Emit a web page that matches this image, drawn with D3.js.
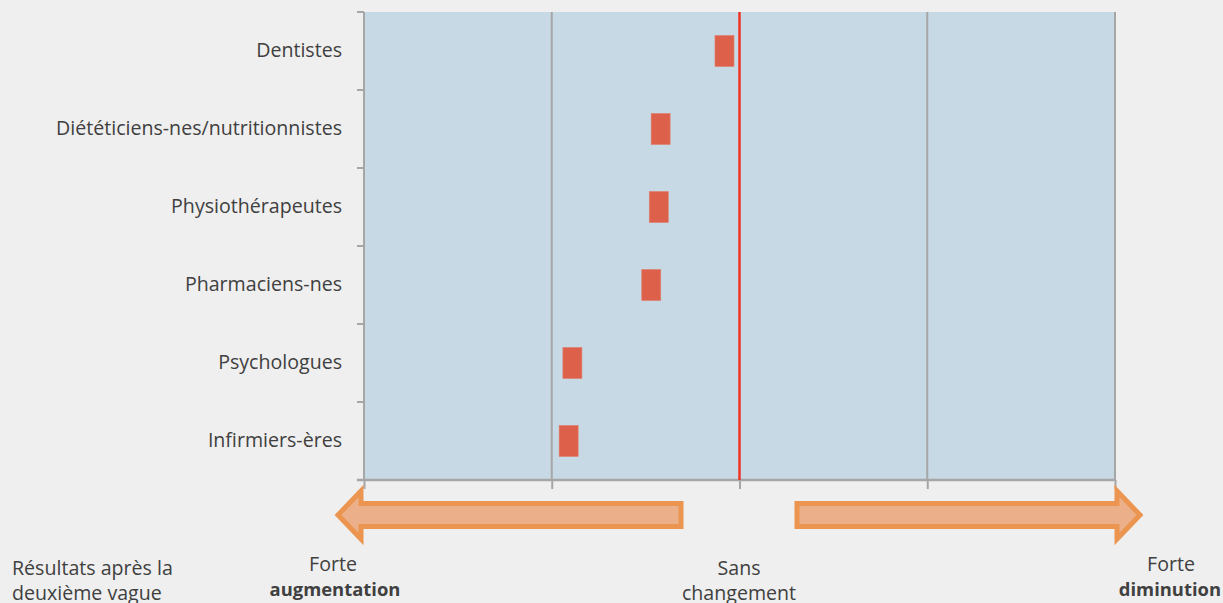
<!DOCTYPE html>
<html>
<head>
<meta charset="utf-8">
<script src="https://cdn.jsdelivr.net/npm/d3@7"></script>
<style>
  html, body { margin: 0; padding: 0; background: #efefef; }
  svg { display: block; }
  text { font-family: "Open Sans", sans-serif; fill: #404040; }
</style>
</head>
<body>
<svg id="chart" width="1223" height="603"></svg>
<script>
// Data (scale: -2 = forte augmentation, 0 = sans changement, +2 = forte diminution)
const categories = ["Dentistes", "Diététiciens-nes/nutritionnistes", "Physiothérapeutes", "Pharmaciens-nes", "Psychologues", "Infirmiers-ères"];
const values = [-0.08, -0.42, -0.43, -0.47, -0.89, -0.91];
const xTicks = [-2, -1, 0, 1, 2];

(function () {
const svg = d3.select("#chart");
const W = 1223, H = 603;
const FS = "19.6px", FSB = "18.4px";
svg.append("rect").attr("width", W).attr("height", H).attr("fill", "#efefef");

const pL = 364, pR = 1115, pT = 12, pB = 480;
const x = d3.scaleLinear().domain([-2, 2]).range([pL, pR]);
const y = d3.scaleBand().domain(categories).range([pT, pB]).paddingInner(0).paddingOuter(0);

// plot background
svg.append("rect").attr("x", pL).attr("y", pT).attr("width", pR - pL).attr("height", pB - pT).attr("fill", "#c7d9e5");

// vertical gridlines
svg.append("g").selectAll("line").data(xTicks.filter(d => d !== 0 && d !== -2)).join("line")
  .attr("x1", d => x(d)).attr("x2", d => x(d)).attr("y1", pT).attr("y2", pB)
  .attr("stroke", "#a6a6a6").attr("stroke-width", 2);

// x axis
const xAxis = svg.append("g").attr("transform", `translate(0,${pB})`)
  .call(d3.axisBottom(x).tickValues(xTicks).tickSize(9).tickFormat(""));
xAxis.select(".domain").attr("stroke", "#a6a6a6").attr("stroke-width", 2.5).attr("d", `M${pL - 7},0H${pR}`);
xAxis.selectAll(".tick line").attr("stroke", "#a6a6a6").attr("stroke-width", 2);

// y axis
const ticksY = categories.map(c => y(c)).concat([pB]);
const yAxis = svg.append("g").attr("transform", `translate(${pL},0)`)
  .call(d3.axisLeft(y).tickSize(0).tickPadding(22));
yAxis.select(".domain").attr("stroke", "#a6a6a6").attr("stroke-width", 2).attr("d", `M0,${pT}V${pB}`);
yAxis.selectAll(".tick text").style("font-size", FS).style("fill", "#404040").style("font-family", "'Open Sans', sans-serif");
svg.append("g").selectAll("line").data(ticksY).join("line")
  .attr("x1", pL - 7).attr("x2", pL).attr("y1", d => d).attr("y2", d => d)
  .attr("stroke", "#a6a6a6").attr("stroke-width", 2);

// red centre line
svg.append("line").attr("x1", x(0)).attr("x2", x(0)).attr("y1", pT).attr("y2", pB)
  .attr("stroke", "#ee3224").attr("stroke-width", 2.5);

// markers
const bw = 19, bh = 31;
svg.append("g").selectAll("rect").data(categories).join("rect")
  .attr("x", (d, i) => x(values[i]) - bw / 2)
  .attr("y", d => y(d) + y.bandwidth() / 2 - bh / 2)
  .attr("width", bw).attr("height", bh)
  .attr("fill", "#dd614a").attr("stroke", "#e27e6c").attr("stroke-width", 0.6);

// arrows
const ay = 515;
function arrowPath(tipX, baseX, endX) {
  const sh = 11.5, hh = 24;
  return `M${tipX},${ay} L${baseX},${ay - hh} L${baseX},${ay - sh} L${endX},${ay - sh} L${endX},${ay + sh} L${baseX},${ay + sh} L${baseX},${ay + hh} Z`;
}
svg.append("path").attr("d", arrowPath(338, 361, 681))
  .attr("fill", "#ebb08a").attr("stroke", "#eb9550").attr("stroke-width", 5).attr("stroke-linejoin", "miter");
svg.append("path").attr("d", arrowPath(1140, 1117, 797))
  .attr("fill", "#ebb08a").attr("stroke", "#eb9550").attr("stroke-width", 5).attr("stroke-linejoin", "miter");

// bottom labels
function label(xp, yp, txt, anchor, bold) {
  svg.append("text").attr("x", xp).attr("y", yp).attr("text-anchor", anchor)
    .style("font-size", bold ? FSB : FS).style("font-weight", bold ? "bold" : "normal").text(txt);
}
label(12, 575, "Résultats après la", "start", false);
label(12, 600, "deuxième vague", "start", false);
label(333, 571, "Forte", "middle", false);
label(335, 596, "augmentation", "middle", true);
label(739, 575, "Sans", "middle", false);
label(739, 600, "changement", "middle", false);
label(1171, 571, "Forte", "middle", false);
label(1221, 596, "diminution", "end", true);
})();
</script>
</body>
</html>
